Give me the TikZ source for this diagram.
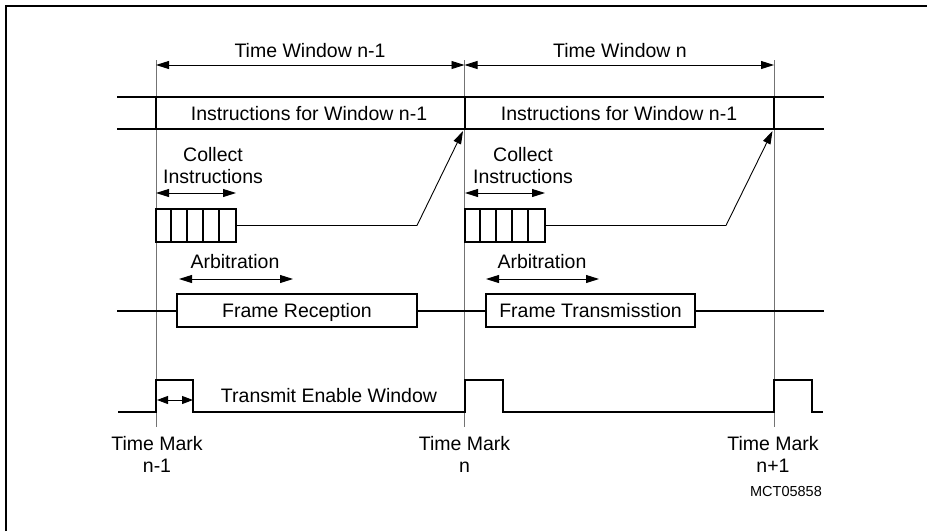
\documentclass[tikz,border=0pt]{standalone}
\usepackage{fontspec}
\setmainfont{Liberation Sans}
\usetikzlibrary{arrows.meta}
\begin{document}
\begin{tikzpicture}[x=1pt,y=-1pt,
  sig/.style={line width=2pt, line join=miter, line cap=rect},
  guide/.style={line width=1pt, draw=black!55},
  thinln/.style={line width=1pt},
  dim/.style={line width=0.9pt, {Triangle[length=13pt,width=8pt]}-{Triangle[length=13pt,width=8pt]}},
  onehead/.style={line width=0.9pt, -{Triangle[length=13pt,width=8pt]}},
  lbl/.style={font=\fontsize{19.5}{22}\selectfont, inner sep=0pt, align=center},
  small/.style={font=\fontsize{14.5}{17}\selectfont, inner sep=0pt},
  boxed/.style={draw, line width=2pt, inner sep=0pt, minimum height=33pt},
]
\useasboundingbox (0,0) rectangle (927,531);
% outer frame (top and left edges)
\draw[line width=1.3pt] (6,531) -- (6,6) -- (927,6);

% time marks
\coordinate (m1t) at (156,60);   \coordinate (m1b) at (156,427);
\coordinate (m2t) at (464.5,60); \coordinate (m2b) at (464.5,427);
\coordinate (m3t) at (774,60);   \coordinate (m3b) at (774,427);
\draw[guide] (m1t) -- (m1b);
\draw[guide] (m2t) -- (m2b);
\draw[guide] (m3t) -- (m3b);

% time windows
\coordinate (w1a) at (156,65); \coordinate (w1b) at (464.5,65); \coordinate (w2b) at (774,65);
\draw[dim] (w1a) -- (w1b);
\draw[dim] (w1b) -- (w2b);
\node[lbl] (tw1) at (310,51) {Time Window n-1};
\node[lbl] (tw2) at (620,51) {Time Window n};

% instruction bus
\draw[sig] (118,97) -- (823,97);
\draw[sig] (118,129) -- (823,129);
\draw[sig] (156,97) -- (156,129);
\draw[sig] (464.5,97) -- (464.5,129);
\draw[sig] (774,97) -- (774,129);
\node[lbl] (inst1) at (309,114) {Instructions for Window n-1};
\node[lbl] (inst2) at (619,114) {Instructions for Window n-1};

% collect instructions
\node[lbl] (col1) at (213,166) {Collect\\Instructions};
\node[lbl] (col2) at (523,166) {Collect\\Instructions};
\coordinate (c1a) at (156,193); \coordinate (c1b) at (236,193);
\coordinate (c2a) at (465,193); \coordinate (c2b) at (545,193);
\draw[dim] (c1a) -- (c1b);
\draw[dim] (c2a) -- (c2b);

% registers
\node[boxed, minimum width=80pt] (reg1) at (196,225.5) {};
\node[boxed, minimum width=80pt] (reg2) at (505,225.5) {};
\foreach \k in {1,2,3,4} {
  \draw[line width=2pt] ([xshift=16*\k pt]reg1.north west) -- ([xshift=16*\k pt]reg1.south west);
  \draw[line width=2pt] ([xshift=16*\k pt]reg2.north west) -- ([xshift=16*\k pt]reg2.south west);
}
\coordinate (k1) at (417,225.5); \coordinate (tip1) at (463,131);
\coordinate (k2) at (726,225.5); \coordinate (tip2) at (772.5,131);
\draw[thinln] (reg1.east) -- (k1);
\draw[onehead] (k1) -- (tip1);
\draw[thinln] (reg2.east) -- (k2);
\draw[onehead] (k2) -- (tip2);

% arbitration
\node[lbl] (arb1) at (235,262) {Arbitration};
\node[lbl] (arb2) at (542,262) {Arbitration};
\coordinate (a1a) at (179,279); \coordinate (a1b) at (293,279);
\coordinate (a2a) at (486,279); \coordinate (a2b) at (599,279);
\draw[dim] (a1a) -- (a1b);
\draw[dim] (a2a) -- (a2b);

% frames
\node[boxed, lbl, text height=14pt, text depth=0pt, minimum width=240pt, minimum height=33pt] (fr1) at (297,310.5) {Frame Reception};
\node[boxed, lbl, text height=14pt, text depth=0pt, minimum width=209pt, minimum height=33pt] (fr2) at (590.5,310.5) {Frame Transmisstion};
\coordinate (fs) at (118,310.5); \coordinate (fe) at (823,310.5);
\draw[sig] (fs) -- (fr1.west);
\draw[sig] (fr1.east) -- (fr2.west);
\draw[sig] (fr2.east) -- (fe);

% transmit enable
\draw[sig, line cap=butt] (118,412) -- (156,412) -- (156,380) -- (193,380) -- (193,412)
  -- (464.5,412) -- (464.5,380) -- (503,380) -- (503,412) -- (774,412) -- (774,380)
  -- (812,380) -- (812,412) -- (823,412);
\coordinate (e1a) at (157,400); \coordinate (e1b) at (193,400);
\draw[line width=0.9pt, {Triangle[length=11pt,width=8pt]}-{Triangle[length=11pt,width=8pt]}] (e1a) -- (e1b);
\node[lbl] (tew) at (329,396) {Transmit Enable Window};

% time mark labels
\node[lbl] (tm1) at (157,454) {Time Mark\\n-1};
\node[lbl] (tm2) at (464.5,454) {Time Mark\\n};
\node[lbl] (tm3) at (773,454) {Time Mark\\n+1};
\node[small] (id) at (786,491) {MCT05858};
\end{tikzpicture}
\end{document}
